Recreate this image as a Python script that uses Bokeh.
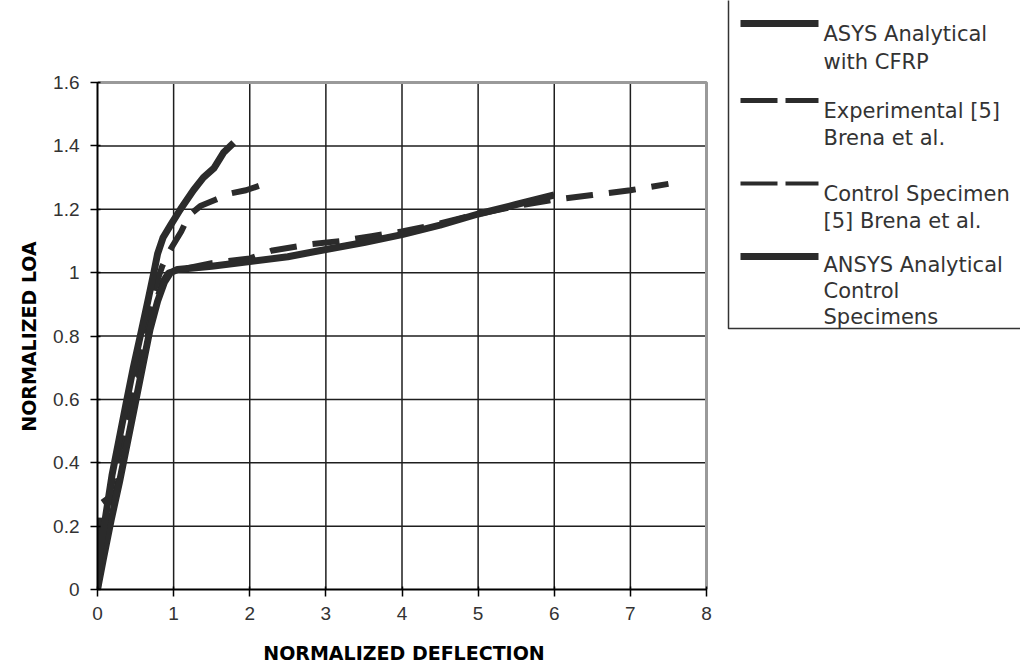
import math
from bokeh.plotting import figure
from bokeh.layouts import row
from bokeh.models import Range1d, FixedTicker, CustomJSTickFormatter
from bokeh.core.properties import value
from bokeh.embed import file_html
from bokeh.resources import INLINE

# ---- data ----
cfrp_ana_x = [0, 0.03, 0.1, 0.19, 0.28, 0.37, 0.47, 0.58, 0.67, 0.74, 0.79, 0.86, 0.96, 1.09, 1.26, 1.39, 1.53, 1.66, 1.79]
cfrp_ana_y = [0, 0.12, 0.22, 0.36, 0.47, 0.58, 0.7, 0.82, 0.92, 1.0, 1.06, 1.11, 1.15, 1.2, 1.26, 1.3, 1.33, 1.38, 1.41]

cfrp_exp_x = [0, 0.02, 0.04, 0.15, 0.25, 0.35, 0.45, 0.55, 0.65, 0.75, 0.85, 0.95, 1.1, 1.2, 1.35, 1.55, 1.75, 1.95, 2.2]
cfrp_exp_y = [0, 0.15, 0.27, 0.29, 0.4, 0.5, 0.6, 0.72, 0.84, 0.95, 1.02, 1.07, 1.13, 1.18, 1.21, 1.23, 1.25, 1.26, 1.28]

ctrl_exp_x = [0, 0.06, 0.14, 0.25, 0.36, 0.46, 0.56, 0.66, 0.76, 0.85, 0.93, 1.1, 1.5, 2.0, 2.3, 2.8, 3.2, 3.6, 4.0, 4.5, 5.0, 5.5, 6.0, 6.5, 7.0, 7.5]
ctrl_exp_y = [0, 0.1, 0.2, 0.32, 0.44, 0.56, 0.68, 0.8, 0.9, 0.97, 1.0, 1.01, 1.03, 1.045, 1.07, 1.09, 1.1, 1.115, 1.13, 1.155, 1.185, 1.21, 1.23, 1.245, 1.26, 1.28]

ctrl_ana_x = [0, 0.08, 0.18, 0.29, 0.39, 0.49, 0.59, 0.69, 0.79, 0.88, 0.96, 1.05, 1.5, 2.0, 2.5, 3.0, 3.5, 4.0, 4.5, 5.0, 5.5, 6.0]
ctrl_ana_y = [0, 0.1, 0.22, 0.34, 0.46, 0.58, 0.7, 0.82, 0.91, 0.97, 1.0, 1.01, 1.02, 1.035, 1.05, 1.073, 1.095, 1.12, 1.15, 1.185, 1.215, 1.245]

x_ticks = [0, 1, 2, 3, 4, 5, 6, 7, 8]
y_ticks = [0, 0.2, 0.4, 0.6, 0.8, 1.0, 1.2, 1.4, 1.6]

x_title = "NORMALIZED DEFLECTION"
y_title = "NORMALIZED LOA"

legend_labels = [
    ["ASYS Analytical", "with CFRP"],
    ["Experimental [5]", "Brena et al."],
    ["Control Specimen", "[5] Brena et al."],
    ["ANSYS Analytical", "Control", "Specimens"],
]

TICK_FONT = "Liberation Sans"
TEXT_FONT = "DejaVu Sans"
INK = "#2b2b2b"

# page geometry (px); the page has no margin
H = 666
W_YT, W_MAIN, W_LEG = 40, 680, 300
PX_X0, PX_X8 = 97, 706       # x = 0 and x = 8
PX_Y0, PX_Y16 = 589, 82      # y = 0 and y = 1.6
FR = 710                     # frame right edge (a little past x = 8)
BOTTOM = H - PX_Y0

x_end = 8 * (FR - PX_X0) / (PX_X8 - PX_X0)
y_end = 1.6 * PX_Y0 / (PX_Y0 - PX_Y16)   # frame top at page y = 0


def blank_panel(width, x0):
    f = figure(width=width, height=H, output_backend="svg", toolbar_location=None,
               x_range=Range1d(x0, x0 + width), y_range=Range1d(PX_Y0, 0),
               x_axis_location=None, y_axis_location=None,
               min_border_left=0, min_border_right=0, min_border_top=0, min_border_bottom=BOTTOM)
    f.grid.visible = False
    f.outline_line_color = None
    f.background_fill_color = "white"
    f.border_fill_color = "white"
    return f


# ---- y title panel ----
yt = blank_panel(W_YT, 0)
yt.text(x=[28], y=[336], text=[y_title], angle=math.pi / 2, text_font=value(TEXT_FONT),
        text_font_size="19px", text_font_style="bold", text_color="black",
        text_align="center", text_baseline="alphabetic")

# ---- main plot ----
p = figure(width=W_MAIN, height=H, output_backend="svg", toolbar_location=None,
           x_range=Range1d(0, x_end), y_range=Range1d(0, y_end),
           min_border_left=PX_X0 - W_YT, min_border_right=W_YT + W_MAIN - FR,
           min_border_top=0, min_border_bottom=BOTTOM)
p.background_fill_color = "white"
p.border_fill_color = "white"
p.outline_line_color = None
p.grid.visible = False

fmt = CustomJSTickFormatter(code="return String(Math.round(tick*10)/10)")
for ax, ticks in ((p.xaxis[0], x_ticks), (p.yaxis[0], y_ticks)):
    ax.ticker = FixedTicker(ticks=ticks)
    ax.bounds = (ticks[0], ticks[-1])
    ax.formatter = fmt
    ax.minor_tick_line_color = None
    ax.major_tick_in = 3
    ax.major_tick_out = 7
    ax.major_tick_line_color = "black"
    ax.major_tick_line_width = 1.5
    ax.axis_line_color = "black"
    ax.axis_line_width = 2
    ax.major_label_text_font = TICK_FONT
    ax.major_label_text_font_size = "19px"
    ax.major_label_text_color = "#333333"
    ax.axis_label_text_font = TEXT_FONT
    ax.axis_label_text_font_size = "19px"
    ax.axis_label_text_font_style = "bold"
    ax.axis_label_text_color = "black"

p.xaxis[0].axis_label = x_title
p.xaxis[0].major_label_standoff = 10
p.yaxis[0].major_label_standoff = 11
p.xaxis[0].axis_label_standoff = 19

# grid lines (only inside the 0..8 x 0..1.6 box)
inner_x = x_ticks[1:-1]
inner_y = y_ticks[1:-1]
p.segment(x0=inner_x, y0=[y_ticks[0]] * len(inner_x), x1=inner_x, y1=[y_ticks[-1]] * len(inner_x),
          line_color="#1e1e1e", line_width=1.5)
p.segment(x0=[x_ticks[0]] * len(inner_y), y0=inner_y, x1=[x_ticks[-1]] * len(inner_y), y1=inner_y,
          line_color="#1e1e1e", line_width=1.5)
# grey top and right border of the plot area
p.line([x_ticks[0], x_ticks[-1], x_ticks[-1]], [y_ticks[-1], y_ticks[-1], y_ticks[0]],
       line_color="#9a9a9a", line_width=3)

p.line(ctrl_exp_x, ctrl_exp_y, line_color=INK, line_width=6, line_dash="27 16")
p.line(cfrp_exp_x, cfrp_exp_y, line_color=INK, line_width=6, line_dash="28 16")
p.line(ctrl_ana_x, ctrl_ana_y, line_color=INK, line_width=7, line_join="round")
p.line(cfrp_ana_x, cfrp_ana_y, line_color=INK, line_width=7, line_join="round")

# ---- legend panel (page pixel coordinates) ----
lg = blank_panel(W_LEG, W_YT + W_MAIN)
lg.line([728, 728, 1040], [-10, 328, 328], line_color="#333333", line_width=1.5)

line_y = [23, 100, 183, 256]
line_w = [7, 5, 4, 7]
line_d = ["solid", "37 8", "37 8", "solid"]
text_y = [[33, 61], [110, 137], [193, 220], [264, 290, 316]]
for i in range(4):
    lg.line([740, 818], [line_y[i], line_y[i]], line_color=INK, line_width=line_w[i], line_dash=line_d[i])
    lg.text(x=[823] * len(text_y[i]), y=text_y[i], text=legend_labels[i], text_font=value(TEXT_FONT),
            text_font_size="21px", text_color="#333333", text_baseline="alphabetic", text_align="left")

layout = row(yt, p, lg)
open("out.html", "w").write(file_html(layout, INLINE))
